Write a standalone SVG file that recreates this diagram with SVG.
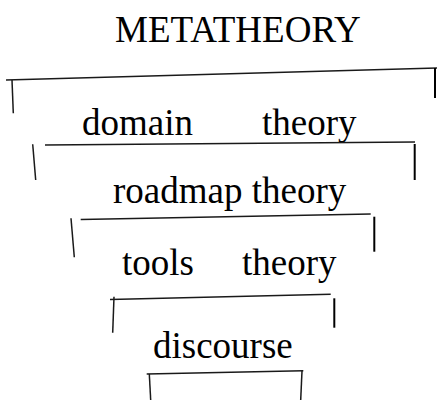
<svg xmlns="http://www.w3.org/2000/svg" width="437" height="400" viewBox="0 0 437 400">
  <style>
    text { font-family: "Liberation Serif", "Times New Roman", serif; font-size: 37px; fill: #000; }
    .bar { stroke: #1a1a1a; stroke-width: 1.5; fill: none; }
    .post { stroke: #000; stroke-width: 2; fill: none; }
  </style>
  <rect width="437" height="400" fill="#fff"/>

  <!-- level labels -->
  <g id="metatheory"><text x="115" y="42">METATHEORY</text></g>
  <g id="domain-theory"><text x="82" y="135">domain</text><text x="262" y="135">theory</text></g>
  <g id="roadmap-theory"><text x="113" y="203">roadmap theory</text></g>
  <g id="tools-theory"><text x="122" y="275">tools</text><text x="242" y="275">theory</text></g>
  <g id="discourse"><text x="153" y="358">discourse</text></g>

  <!-- bracket connectors nesting each level inside the one above -->
  <g id="connectors">
    <line class="bar" x1="6" y1="80" x2="437" y2="68"/>
    <line class="bar" x1="12" y1="80" x2="13.3" y2="113.3"/>
    <line class="post" x1="435" y1="68" x2="435" y2="98"/>

    <line class="bar" x1="45" y1="145" x2="415" y2="142"/>
    <line class="bar" x1="32.7" y1="144.3" x2="35.7" y2="180"/>
    <line class="post" x1="414.7" y1="144" x2="414.7" y2="180"/>

    <line class="bar" x1="80.7" y1="219.5" x2="370.7" y2="214"/>
    <line class="bar" x1="71" y1="218.3" x2="74.3" y2="257.3"/>
    <line class="post" x1="374.3" y1="216.7" x2="374.3" y2="251.7"/>

    <line class="bar" x1="110" y1="299.5" x2="330.7" y2="294.3"/>
    <line class="bar" x1="114" y1="296.7" x2="112.7" y2="332.7"/>
    <line class="post" x1="334.3" y1="298.3" x2="334.3" y2="327.7"/>

    <line class="bar" x1="146.7" y1="374" x2="303.3" y2="370.7"/>
    <line class="bar" x1="149.3" y1="374" x2="150.7" y2="400"/>
    <line class="bar" x1="302" y1="371" x2="300.7" y2="400"/>
  </g>
</svg>
